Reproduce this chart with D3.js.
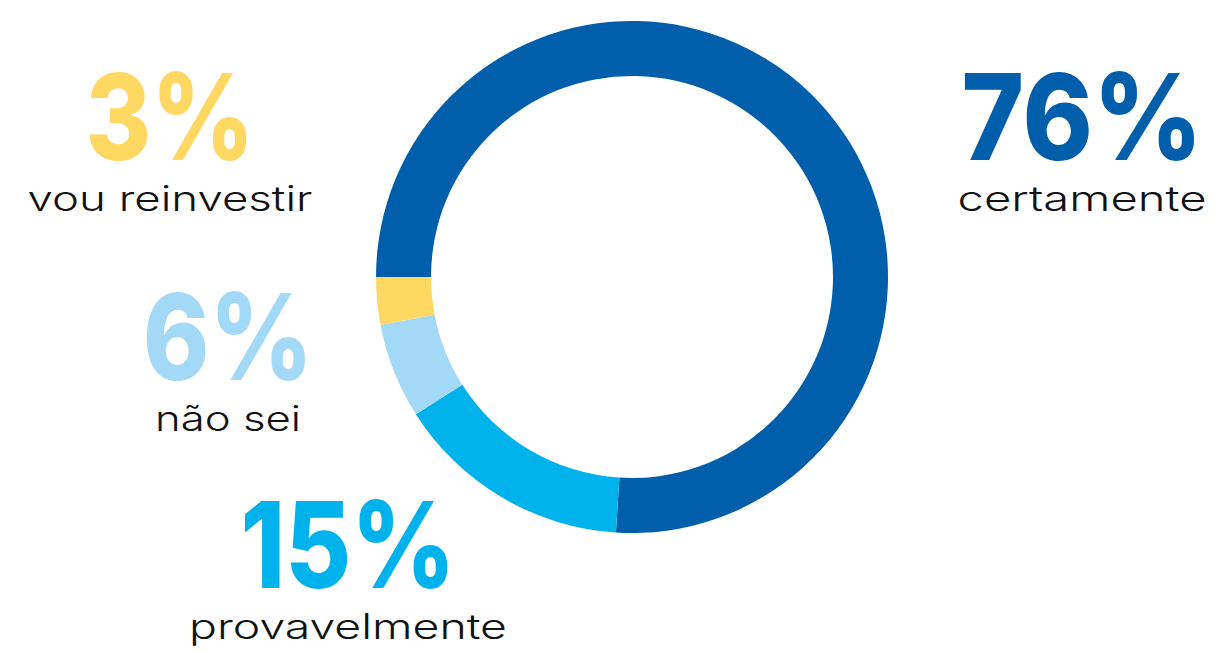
<!DOCTYPE html>
<html>
<head>
<meta charset="utf-8">
<script src="https://d3js.org/d3.v7.min.js"></script>
<style>
  body { margin: 0; background: #fff; }
  svg { display: block; }
</style>
</head>
<body>
<div id="chart"></div>
<script>
  // data, in the order the ring is drawn (clockwise from 9 o'clock)
  var categories = ["certamente", "provavelmente", "não sei", "vou reinvestir"];
  var values = [76, 15, 6, 3];
  var colors = ["#005eab", "#00b2eb", "#a3d9f7", "#ffd864"];

  // where each label block sits (centre x, baseline of the big number, widths)
  var labelPos = [
    {x: 1082, y: 160, w: 241, lw: 249},
    {x: 348, y: 588, w: 215, lw: 318},
    {x: 228, y: 380, w: 170, lw: 146},
    {x: 170, y: 160, w: 169, lw: 285}
  ];

  var width = 1215, height = 652;
  var cx = 632, cy = 277, outerR = 256, innerR = 201;

  var svg = d3.select("#chart").append("svg")
    .attr("width", width)
    .attr("height", height);

  var pie = d3.pie()
    .sort(null)
    .value(function(d) { return d; })
    .startAngle(-Math.PI / 2)
    .endAngle(Math.PI * 1.5);

  var arc = d3.arc().innerRadius(innerR).outerRadius(outerR);

  var ring = svg.append("g").attr("transform", "translate(" + cx + "," + cy + ")");
  ring.selectAll("path")
    .data(pie(values))
    .enter()
    .append("path")
    .attr("d", arc)
    .attr("fill", function(d, i) { return colors[i]; });

  var labels = svg.selectAll("g.lbl")
    .data(categories)
    .enter()
    .append("g")
    .attr("class", "lbl")
    .attr("transform", function(d, i) { return "translate(" + labelPos[i].x + "," + labelPos[i].y + ")"; });

  labels.append("text")
    .attr("text-anchor", "middle")
    .attr("font-family", "Inter, 'Open Sans', sans-serif")
    .attr("font-weight", 800)
    .attr("font-size", "120px")
    .attr("fill", function(d, i) { return colors[i]; })
    .attr("textLength", function(d, i) { return labelPos[i].w; })
    .attr("lengthAdjust", "spacingAndGlyphs")
    .text(function(d, i) { return values[i] + "%"; });

  labels.append("text")
    .attr("text-anchor", "middle")
    .attr("y", 51)
    .attr("font-family", "Inter, 'Open Sans', sans-serif")
    .attr("font-weight", 300)
    .attr("font-size", "35px")
    .attr("fill", "#111")
    .attr("textLength", function(d, i) { return labelPos[i].lw; })
    .attr("lengthAdjust", "spacingAndGlyphs")
    .text(function(d) { return d; });
</script>
</body>
</html>
